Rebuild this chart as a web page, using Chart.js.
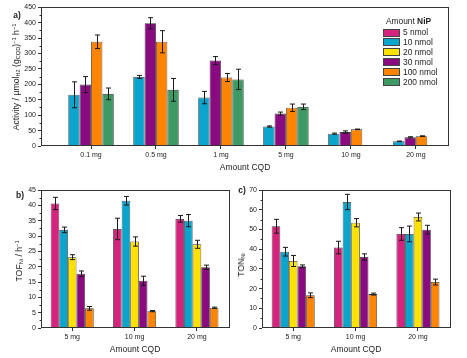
<!DOCTYPE html>
<html><head><meta charset="utf-8">
<script src="https://cdn.jsdelivr.net/npm/chart.js@4"></script>
<style>
html,body{margin:0;padding:0;background:#fff;}
#wrap{position:relative;width:467px;height:358px;overflow:hidden;font-family:"Liberation Sans",Arial,sans-serif;color:#222;}
canvas{position:absolute;}
.t{position:absolute;white-space:nowrap;line-height:1;font-size:8.5px;}
.c{transform:translate(-50%,-50%);}
.r{transform:translate(-50%,-50%) rotate(-90deg);}
.b{font-weight:bold;}
.sub{font-size:0.65em;vertical-align:-0.25em;}
.sup{font-size:0.65em;vertical-align:0.55em;}
.sw{position:absolute;width:17px;height:8px;border:0.8px solid #444;box-sizing:border-box;}
</style></head>
<body><div id="wrap">
<canvas id="ca" width="467" height="178" style="left:0;top:0"></canvas>
<canvas id="cb" width="233" height="180" style="left:0;top:178px"></canvas>
<canvas id="cc" width="234" height="180" style="left:233px;top:178px"></canvas>

<div class="t c b" style="left:17px;top:15px;">a)</div>
<div class="t r" style="left:17px;top:77px;font-size:8.7px;">Activity / µmol<span class="sub">H2</span> (g<span class="sub">CQD</span>)<span class="sup">−1</span> h<span class="sup">−1</span></div>
<div class="t c" style="left:245px;top:167px;">Amount CQD</div>

<div class="t c b" style="left:20px;top:195px;">b)</div>
<div class="t r" style="left:20px;top:261px;font-size:8.7px;">TOF<span class="sub">Ni</span> / h<span class="sup">−1</span></div>
<div class="t c" style="left:135px;top:349px;">Amount CQD</div>

<div class="t c b" style="left:242px;top:190px;">c)</div>
<div class="t r" style="left:242px;top:265px;font-size:8.7px;">TON<span class="sub">Ni</span></div>
<div class="t c" style="left:356px;top:348.5px;">Amount CQD</div>

<div id="legend"></div>
</div>
<script>
// ---- data ----
const cqdA = ['0.1 mg','0.5 mg','1 mg','5 mg','10 mg','20 mg'];
const cqdBC = ['5 mg','10 mg','20 mg'];
const nipLabels = ['5 nmol','10 nmol','20 nmol','30 nmol','100 nmol','200 nmol'];
const nipColors = ['#d4247e','#0aa4cc','#ffe100','#8a0a80','#ff8400','#3d9a65'];

// a) Activity (µmol H2 / g CQD / h)
const act10  = [166, 224, 157, 63, 40, 15];
const act10e = [42, 5, 20, 2, 2, 1];
const act30  = [199, 398, 277, 105, 45, 28];
const act30e = [26, 18, 13, 5, 4, 2];
const act100  = [338, 338, 222, 124, 54, 32];
const act100e = [22, 36, 13, 12, 1, 1];
const act200  = [169, 182, 216, 127, null, null];
const act200e = [19, 37, 33, 9, null, null];

// b) TOF_Ni (h^-1)
const tof5  = [40.6, 32.3, 35.6];  const tof5e  = [2.0, 3.5, 1.1];
const tof10 = [32.0, 41.5, 35.0];  const tof10e = [0.9, 1.4, 2.0];
const tof20 = [23.1, 28.2, 27.3];  const tof20e = [0.8, 1.5, 1.3];
const tof30 = [17.7, 15.4, 19.8];  const tof30e = [0.9, 1.5, 0.7];
const tof100 = [6.4, 5.5, 6.6];    const tof100e = [0.6, 0.2, 0.2];

// c) TON_Ni
const ton5  = [51.6, 40.8, 47.7];  const ton5e  = [3.5, 3.2, 3.2];
const ton10 = [38.7, 63.9, 47.7];  const ton10e = [2.2, 3.9, 4.0];
const ton20 = [34.0, 53.4, 56.3];  const ton20e = [2.8, 2.1, 2.0];
const ton30 = [31.3, 36.0, 49.9];  const ton30e = [0.7, 1.6, 2.2];
const ton100 = [16.6, 17.2, 23.3]; const ton100e = [1.2, 0.5, 1.5];

// ---- chart setup ----
Chart.defaults.font.family = '"Liberation Sans", Arial, sans-serif';
Chart.defaults.color = '#222';

const deco = {
  id: 'deco',
  afterDatasetsDraw(chart, args, o) {
    const {ctx, chartArea: a} = chart;
    const y = chart.scales.y;
    ctx.save();
    ctx.strokeStyle = '#1a1a1a'; ctx.lineWidth = 1;
    chart.data.datasets.forEach((ds, di) => {
      const meta = chart.getDatasetMeta(di);
      meta.data.forEach((el, i) => {
        const v = ds.data[i].y, e = ds.errs[i];
        if (v == null || e == null) return;
        const yt = y.getPixelForValue(v + e), yb = y.getPixelForValue(v - e);
        const xc = Math.round(el.x) + 0.5, c = o.cap;
        ctx.beginPath();
        ctx.moveTo(xc, yt); ctx.lineTo(xc, yb);
        ctx.moveTo(xc - c, yt); ctx.lineTo(xc + c, yt);
        ctx.moveTo(xc - c, yb); ctx.lineTo(xc + c, yb);
        ctx.stroke();
      });
    });
    ctx.strokeStyle = '#333';
    const L = Math.round(a.left) + 0.5, T = Math.round(a.top) + 0.5;
    const R = Math.round(a.right) - 0.5, B = Math.round(a.bottom) - 0.5;
    ctx.strokeRect(L, T, R - L, B - T);
    ctx.beginPath();
    for (let v = o.minor; v < y.max; v += o.minor * 2) {
      const py = Math.round(y.getPixelForValue(v)) + 0.5;
      ctx.moveTo(L, py); ctx.lineTo(L - 2, py);
    }
    ctx.stroke();
    ctx.restore();
  }
};

function makeChart(id, cats, xmin, xmax, series, ymax, ystep, target, catPct) {
  const datasets = series.map(s => ({
    label: s.label,
    data: s.values.map((v, i) => ({x: i + 1, y: v})),
    errs: s.errs,
    backgroundColor: s.color,
    borderColor: '#3a3a3a',
    borderWidth: 0.8,
    categoryPercentage: catPct,
    barPercentage: 1.0
  }));
  const chart = new Chart(document.getElementById(id), {
    type: 'bar',
    data: {datasets},
    options: {
      responsive: false, animation: false, devicePixelRatio: 1,
      layout: {padding: {left: 0, top: 0, right: 0, bottom: 0}},
      plugins: {legend: {display: false}, tooltip: {enabled: false},
                deco: {cap: 2.5, minor: ystep / 2}},
      scales: {
        x: {
          type: 'linear', min: xmin, max: xmax, offset: false,
          afterBuildTicks: ax => { ax.ticks = cats.map((c, i) => ({value: i + 1})); },
          ticks: {autoSkip: false, maxRotation: 0, padding: 2, font: {size: 7},
                  callback: (v, i) => cats[i]},
          grid: {display: true, offset: false, drawOnChartArea: false, drawTicks: true,
                 tickLength: 3, tickColor: '#333'},
          border: {display: false}
        },
        y: {
          min: 0, max: ymax,
          ticks: {stepSize: ystep, padding: 2, font: {size: 7}},
          grid: {display: true, drawOnChartArea: false, drawTicks: true,
                 tickLength: 3, tickColor: '#333'},
          border: {display: false}
        }
      }
    },
    plugins: [deco]
  });
  for (let k = 0; k < 4; k++) {
    const ca = chart.chartArea, p = chart.options.layout.padding;
    const dl = target.l - ca.left, dt = target.t - ca.top;
    const dr = ca.right - target.r, db = ca.bottom - target.b;
    if (Math.abs(dl) + Math.abs(dt) + Math.abs(dr) + Math.abs(db) < 0.05) break;
    p.left += dl; p.top += dt; p.right += dr; p.bottom += db;
    chart.update('none');
  }
  return chart;
}

makeChart('ca', cqdA, 0.23, 6.51, [
  {label: nipLabels[1], color: nipColors[1], values: act10, errs: act10e},
  {label: nipLabels[3], color: nipColors[3], values: act30, errs: act30e},
  {label: nipLabels[4], color: nipColors[4], values: act100, errs: act100e},
  {label: nipLabels[5], color: nipColors[5], values: act200, errs: act200e}
], 450, 50, {l: 41, t: 8, r: 449, b: 146}, 0.70);

makeChart('cb', cqdBC, 0.5, 3.53, [
  {label: nipLabels[0], color: nipColors[0], values: tof5, errs: tof5e},
  {label: nipLabels[1], color: nipColors[1], values: tof10, errs: tof10e},
  {label: nipLabels[2], color: nipColors[2], values: tof20, errs: tof20e},
  {label: nipLabels[3], color: nipColors[3], values: tof30, errs: tof30e},
  {label: nipLabels[4], color: nipColors[4], values: tof100, errs: tof100e}
], 45, 5, {l: 41, t: 12, r: 230, b: 150}, 0.69);

makeChart('cc', cqdBC, 0.5, 3.53, [
  {label: nipLabels[0], color: nipColors[0], values: ton5, errs: ton5e},
  {label: nipLabels[1], color: nipColors[1], values: ton10, errs: ton10e},
  {label: nipLabels[2], color: nipColors[2], values: ton20, errs: ton20e},
  {label: nipLabels[3], color: nipColors[3], values: ton30, errs: ton30e},
  {label: nipLabels[4], color: nipColors[4], values: ton100, errs: ton100e}
], 70, 10, {l: 29, t: 12, r: 218, b: 150}, 0.69);

// legend (panel a)
const lg = document.getElementById('legend');
let html = '<div class="t c" style="left:408.5px;top:20.5px;font-size:8.4px;">Amount <b>NiP</b></div>';
nipLabels.forEach((lab, i) => {
  const cy = 32.5 + i * 9.9;
  html += `<div class="sw" style="left:383px;top:${cy - 4}px;background:${nipColors[i]}"></div>`;
  html += `<div class="t" style="left:403px;top:${cy - 4.3}px;font-size:8.4px;">${lab}</div>`;
});
lg.innerHTML = html;
</script>
</body></html>
